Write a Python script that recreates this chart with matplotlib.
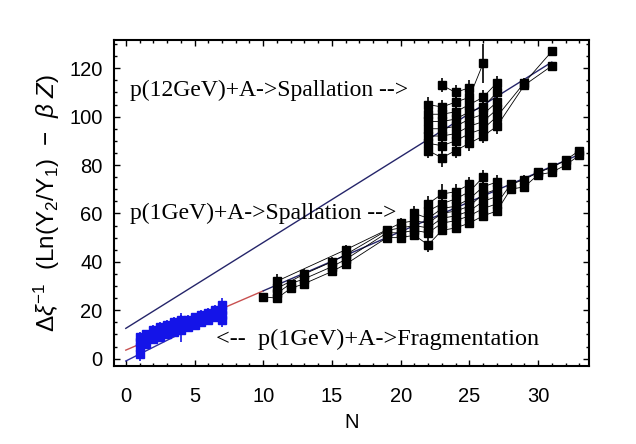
import numpy as np
import pandas as pd
import matplotlib
matplotlib.use('Agg')
import matplotlib.pyplot as plt
from matplotlib.ticker import MultipleLocator

# p(1GeV)+A -> Fragmentation (blue points)
n_frag = [1, 1, 1, 1, 1.5, 1.5, 1.5, 2, 2, 2, 2.5, 2.5, 2.5, 3, 3, 3, 3.5, 3.5, 3.5,
          4, 4, 4, 4.5, 4.5, 4.5, 5, 5, 5, 5.5, 5.5, 5.5, 6, 6, 6, 6.5, 6.5, 6.5, 7, 7, 7, 7]
y_frag = [2, 5, 7, 9, 6, 8, 10, 8, 10, 12, 9, 11, 13, 10, 12, 14, 11, 13, 15,
          12, 13, 16, 13, 15, 16, 14, 16, 17, 15, 17, 18, 16, 18, 19, 17, 18, 20, 16, 18, 20, 22]
e_frag = [3, 2, 2, 2, 2, 2, 2, 2, 2, 2, 2, 2, 2, 2, 2, 2, 2, 2, 2,
          2, 6, 2, 2, 2, 2, 2, 2, 2, 2, 2, 2, 2, 2, 2, 2, 2, 2, 3, 2, 2, 3]

# p(1GeV)+A -> Spallation (black, lower band)
n_sp1 = [10, 11, 11, 11, 11, 12, 12, 13, 13, 13, 15, 15, 15, 16, 16, 16, 16,
         19, 19, 19, 20, 20, 20, 20, 21, 21, 21, 21, 21,
         22, 22, 22, 22, 22, 22, 22, 23, 23, 23, 23, 23, 23, 23,
         24, 24, 24, 24, 24, 24, 24, 25, 25, 25, 25, 25, 25, 25,
         26, 26, 26, 26, 26, 26, 27, 27, 27, 27, 27,
         28, 28, 29, 29, 30, 30, 31, 31, 32, 32, 33, 33]
y_sp1 = [25.5, 25, 27, 29, 32, 29, 31, 31, 33, 35, 36, 38, 40, 39, 41, 43, 45,
         50, 52, 53, 50, 52, 54, 56, 51, 53, 55, 57, 60,
         47, 52, 54, 56, 58, 61, 64, 53, 56, 58, 60, 62, 64, 68,
         54, 57, 59, 61, 63, 66, 69, 56, 59, 61, 63, 66, 69, 72,
         59, 62, 65, 68, 71, 75, 61, 64, 67, 70, 73,
         70, 72, 71, 74, 76, 77, 77, 79, 80, 82, 84, 86]
e_sp1 = [1, 2, 2, 2, 3, 1, 1, 1, 1, 2, 2, 2, 2, 2, 2, 2, 2,
         1, 1, 1, 1, 2, 2, 2, 2, 2, 2, 2, 3,
         3, 2, 2, 2, 2, 2, 3, 2, 2, 2, 2, 2, 2, 4,
         2, 2, 2, 2, 2, 2, 3, 2, 2, 2, 2, 2, 2, 3,
         2, 2, 2, 2, 2, 3, 2, 2, 2, 2, 3,
         2, 2, 2, 2, 1, 1, 1, 1, 1, 1, 1, 1]

# p(12GeV)+A -> Spallation (black, upper band)
n_sp12 = [22, 22, 22, 22, 22, 22, 22, 23, 23, 23, 23, 23, 23, 23, 23,
          24, 24, 24, 24, 24, 24, 24, 24, 25, 25, 25, 25, 25, 25, 25, 25,
          26, 26, 26, 26, 26, 26, 26, 27, 27, 27, 27, 27, 27, 29, 29, 31, 31]
y_sp12 = [86, 89, 92, 95, 98, 101, 105, 83, 88, 92, 95, 98, 101, 104, 113,
          86, 90, 93, 96, 99, 102, 106, 110, 89, 93, 96, 99, 102, 105, 108, 112,
          92, 95, 98, 101, 104, 108, 122, 96, 100, 103, 106, 110, 114, 113, 114, 121, 127]
e_sp12 = [3, 3, 3, 3, 3, 3, 3, 4, 3, 3, 3, 3, 3, 3, 3,
          3, 3, 3, 3, 3, 3, 3, 3, 3, 3, 3, 3, 3, 3, 3, 3,
          3, 3, 3, 3, 3, 3, 8, 3, 3, 3, 3, 3, 3, 2, 2, 1, 1]

# straight-line fits (intercept, slope, N range)
fit_12 = (12.5, 3.55, 0, 31)
fit_1 = (3.5, 2.45, 0, 33)
fit_frag = (-1.0, 2.85, 0, 7)


def draw_group(ax, n, y, err, color):
    df = pd.DataFrame({'n': n, 'y': y, 'e': err})
    df['rank'] = df.groupby('n').cumcount()
    for r, g in df.groupby('rank'):
        ax.plot(g['n'], g['y'], '-', color=color, lw=0.6)
    ax.errorbar(df['n'], df['y'], yerr=df['e'], fmt='s', ms=6, color=color,
                elinewidth=1.2, capsize=0)


def draw_fit(ax, fit, color, n0=None, n1=None):
    a, b, lo, hi = fit
    if n0 is not None:
        lo = n0
    if n1 is not None:
        hi = n1
    xx = np.array([lo, hi])
    ax.plot(xx, a + b * xx, '-', color=color, lw=1.0)


plt.rcParams['font.family'] = ['Liberation Sans', 'DejaVu Sans']
plt.rcParams['mathtext.fontset'] = 'custom'
plt.rcParams['mathtext.rm'] = 'Liberation Sans'
plt.rcParams['mathtext.it'] = 'Liberation Sans:italic'

fig = plt.figure(figsize=(6.36, 4.44), dpi=100)
ax = fig.add_axes([0.179, 0.176, 0.747, 0.734])

navy = '#25256a'
draw_fit(ax, fit_12, navy)
draw_fit(ax, fit_1, '#c85050', n1=10)
draw_fit(ax, fit_1, navy, n0=10)
draw_fit(ax, fit_frag, '#3030a0')

draw_group(ax, n_sp12, y_sp12, e_sp12, 'black')
draw_group(ax, n_sp1, y_sp1, e_sp1, 'black')
draw_group(ax, n_frag, y_frag, e_frag, '#1414e8')

ax.set_xlim(-0.87, 33.7)
ax.set_ylim(-3, 131.7)
ax.xaxis.set_major_locator(MultipleLocator(5))
ax.xaxis.set_minor_locator(MultipleLocator(1))
ax.yaxis.set_major_locator(MultipleLocator(20))
ax.yaxis.set_minor_locator(MultipleLocator(5))
ax.tick_params(which='both', direction='in', top=True, right=True, width=1.0)
ax.tick_params(which='major', length=4, labelsize=14.5)
ax.tick_params(axis='x', which='major', pad=15)
ax.tick_params(axis='y', which='major', pad=8)
ax.tick_params(which='minor', length=2)
for s in ax.spines.values():
    s.set_linewidth(1.5)

ax.set_xlabel('N', fontsize=14.5, labelpad=5)
ax.set_ylabel(r'$\Delta\xi^{-1}$  (Ln(Y$_2$/Y$_1$)  $-$  $\beta$ $Z$)', fontsize=17.5, labelpad=5)

serif = ['Liberation Serif', 'DejaVu Serif']
ax.text(0.29, 111, 'p(12GeV)+A->Spallation -->', family=serif, fontsize=17, va='center')
ax.text(0.29, 60, 'p(1GeV)+A->Spallation -->', family=serif, fontsize=17, va='center')
ax.text(6.55, 8.1, '<--  p(1GeV)+A->Fragmentation', family=serif, fontsize=17.5, va='center')

fig.savefig('out.png', dpi=100, facecolor='white')
